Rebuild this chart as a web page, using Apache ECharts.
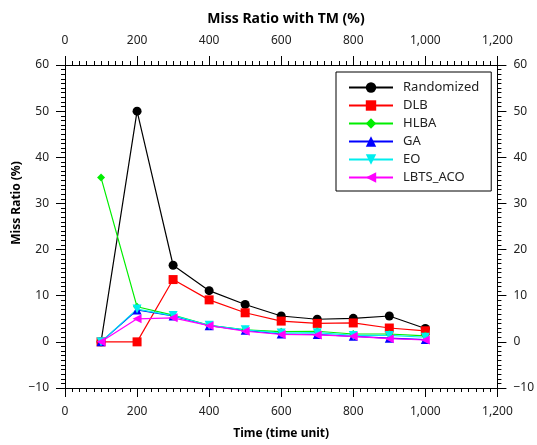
<!DOCTYPE html>
<html>
<head>
<meta charset="utf-8">
<script src="https://cdn.jsdelivr.net/npm/echarts@6/dist/echarts.min.js"></script>
<style>html,body{margin:0;padding:0;background:#fff}#c{width:537px;height:445px}</style>
</head>
<body>
<div id="c"></div>
<script>
var times = [100, 200, 300, 400, 500, 600, 700, 800, 900, 1000];
var randomized = [0, 50, 16.6, 11.1, 8.1, 5.6, 4.9, 5.1, 5.6, 2.9];
var dlb = [0, 0, 13.5, 9.1, 6.3, 4.5, 4.0, 4.1, 3.0, 2.4];
var hlba = [35.6, 7.6, 5.8, 3.6, 2.6, 2.2, 2.3, 1.7, 1.7, 1.3];
var ga = [0, 6.9, 5.6, 3.5, 2.5, 1.7, 1.6, 1.2, 0.8, 0.5];
var eo = [0, 7.1, 5.7, 3.6, 2.6, 1.9, 2.0, 1.4, 1.4, 1.0];
var lbts = [0, 5.0, 5.2, 3.5, 2.3, 1.6, 1.5, 1.2, 0.7, 0.4];
var xTicks = {min: 0, max: 1200, interval: 200};
var yTicks = {min: -10, max: 60, interval: 10};

var font = 'Noto Sans';
function pairs(arr) { return times.map(function (t, i) { return [t, arr[i]]; }); }
function fmtNum(v) { return String(v).replace(/\B(?=(\d{3})+(?!\d))/g, ',').replace('-', '\u2212'); }

function axisBase(extra) {
  var o = {
    type: 'value',
    axisLine: {show: true, onZero: false, lineStyle: {color: '#000', width: 1}},
    axisTick: {show: true, inside: false, length: 9, lineStyle: {color: '#000'}},
    minorTick: {show: true, splitNumber: 10, length: 4, lineStyle: {color: '#000'}},
    splitLine: {show: false},
    minorSplitLine: {show: false}
  };
  for (var k in extra) o[k] = extra[k];
  return o;
}
function lbl(margin) { return {color: '#222', fontFamily: font, fontSize: 12, margin: margin, formatter: fmtNum}; }

var chart = echarts.init(document.getElementById('c'), null, {renderer: 'canvas'});
var series = [
  {name: 'Randomized', data: pairs(randomized), color: '#000000', symbol: 'circle', symbolSize: 9},
  {name: 'DLB', data: pairs(dlb), color: '#ff0000', symbol: 'rect', symbolSize: 9},
  {name: 'HLBA', data: pairs(hlba), color: '#00ee00', symbol: 'diamond', symbolSize: 8},
  {name: 'GA', data: pairs(ga), color: '#0000ff', symbol: 'triangle', symbolSize: 9},
  {name: 'EO', data: pairs(eo), color: '#00eeee', symbol: 'triangle', symbolRotate: 180, symbolSize: 9},
  {name: 'LBTS_ACO', data: pairs(lbts), color: '#ff00ff', symbol: 'triangle', symbolRotate: 90, symbolSize: 9}
].map(function (s) {
  return {
    name: s.name, type: 'line', data: s.data, symbol: s.symbol, symbolSize: s.symbolSize,
    symbolRotate: s.symbolRotate || 0,
    itemStyle: {color: s.color}, lineStyle: {color: s.color, width: 1.2},
    showAllSymbol: true, animation: false
  };
});

chart.setOption({
  backgroundColor: '#fff',
  animation: false,
  title: {
    text: 'Miss Ratio with TM (%)', left: 281, top: 7, textAlign: 'center',
    textStyle: {fontFamily: font, fontSize: 14, fontWeight: 'bold', color: '#000'}
  },
  graphic: [{
    type: 'text', x: 17, y: 203, rotation: Math.PI / 2,
    style: {text: 'Miss Ratio (%)', fontFamily: font, fontSize: 12, fontWeight: 'bold', fill: '#000',
      textAlign: 'center', textVerticalAlign: 'middle'}
  }],
  grid: {left: 65, right: 39, top: 65, bottom: 56, containLabel: false},
  legend: {
    orient: 'vertical', left: 336, top: 72,
    padding: [9, 12, 7, 12], itemGap: 5, itemWidth: 44, itemHeight: 13,
    borderColor: '#000', borderWidth: 1, backgroundColor: '#fff',
    textStyle: {fontFamily: font, fontSize: 13, color: '#222', padding: [0, 0, 0, 5]},
    data: series.map(function (s) { return s.name; })
  },
  xAxis: [
    axisBase({position: 'bottom', min: xTicks.min, max: xTicks.max, interval: xTicks.interval,
      name: 'Time (time unit)', nameLocation: 'middle', nameGap: 40,
      nameTextStyle: {fontFamily: font, fontSize: 12, fontWeight: 'bold', color: '#000'},
      axisLabel: lbl(18)}),
    axisBase({position: 'top', min: xTicks.min, max: xTicks.max, interval: xTicks.interval,
      axisLabel: lbl(18)})
  ],
  yAxis: [
    axisBase({position: 'left', min: yTicks.min, max: yTicks.max, interval: yTicks.interval,
      axisLabel: lbl(16)}),
    axisBase({position: 'right', min: yTicks.min, max: yTicks.max, interval: yTicks.interval,
      axisLabel: lbl(16)})
  ],
  series: series
});
</script>
</body>
</html>
